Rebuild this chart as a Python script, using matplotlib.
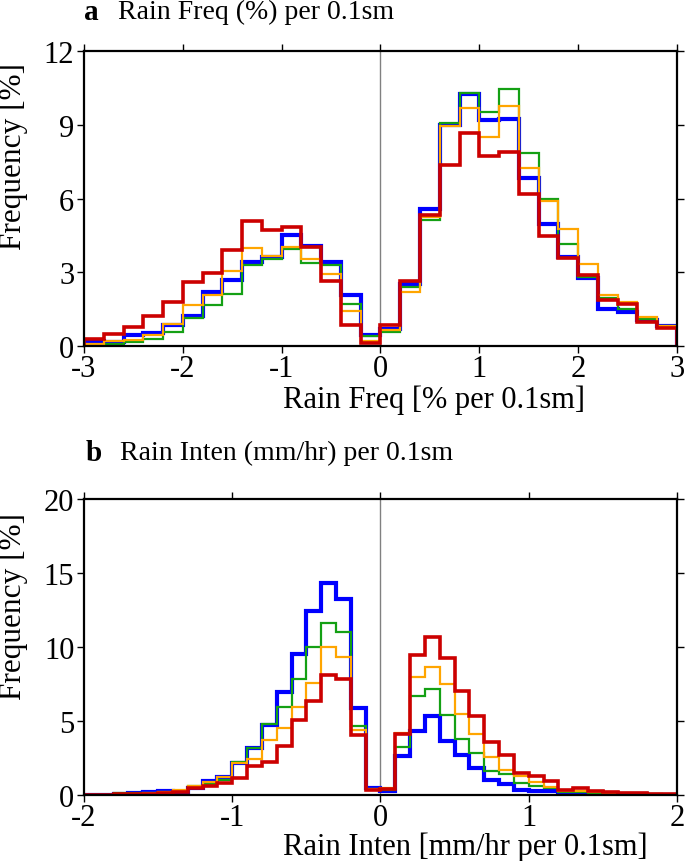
import numpy as np
import matplotlib
matplotlib.use("Agg")
import matplotlib.pyplot as plt

plt.rcParams['font.family'] = ['Liberation Serif', 'DejaVu Serif']
plt.rcParams['axes.unicode_minus'] = False

# panel a: rain frequency, bins of 0.2 from -3 to 3
edges_a = np.linspace(-3, 3, 31)
freq_blue = [0.2, 0.15, 0.43, 0.54, 0.84, 1.22, 2.2, 2.67, 3.42, 3.62, 4.5, 4.07, 3.42, 2.06, 0.43,
             0.71, 2.51, 5.56, 9.0, 10.25, 9.19, 9.23, 6.85, 4.95, 3.64, 2.75, 1.52, 1.38, 1.06, 0.81]
freq_green = [0.05, 0.1, 0.16, 0.3, 0.58, 1.13, 1.67, 2.12, 3.28, 3.55, 3.96, 3.36, 3.31, 1.7, 0.41,
              0.58, 2.42, 5.13, 9.06, 10.3, 9.53, 10.45, 7.87, 5.97, 4.14, 2.82, 1.97, 1.49, 1.11, 0.8]
freq_orange = [0.1, 0.2, 0.23, 0.43, 0.91, 1.67, 2.08, 3.04, 3.99, 3.66, 4.03, 3.55, 2.94, 1.42, 0.2,
               0.65, 2.2, 5.26, 8.95, 9.7, 8.51, 9.77, 7.23, 5.88, 4.75, 3.32, 2.06, 1.79, 1.18, 0.8]
freq_red = [0.3, 0.47, 0.79, 1.22, 1.8, 2.62, 2.98, 3.9, 5.09, 4.71, 4.83, 4.04, 2.65, 0.85, 0.14,
            0.84, 2.65, 5.32, 7.37, 8.68, 7.73, 7.91, 6.17, 4.48, 3.6, 2.9, 1.87, 1.7, 0.98, 0.75]

# panel b: rain intensity, bins of 0.1 from -2 to 2
edges_b = np.linspace(-2, 2, 41)
inten_blue = [0.03, 0.03, 0.05, 0.13, 0.18, 0.29, 0.22, 0.45, 0.92, 1.19, 2.16, 3.15, 4.73, 6.98, 9.55,
              12.4, 14.3, 13.27, 5.86, 0.5, 0.25, 2.66, 4.3, 5.36, 3.67, 2.7, 1.8, 1.01, 0.74, 0.34,
              0.29, 0.25, 0.14, 0.14, 0.1, 0.08, 0.06, 0.05, 0.03, 0.02]
inten_green = [0.02, 0.03, 0.1, 0.1, 0.1, 0.2, 0.3, 0.58, 0.74, 1.04, 2.25, 3.2, 4.77, 5.92, 7.84,
               9.98, 11.6, 11.04, 4.68, 0.42, 0.35, 3.22, 6.71, 7.16, 5.4, 3.78, 2.82, 1.64, 1.42, 0.79,
               0.59, 0.47, 0.22, 0.22, 0.15, 0.12, 0.08, 0.06, 0.04, 0.03]
inten_orange = [0.02, 0.03, 0.05, 0.08, 0.1, 0.22, 0.34, 0.63, 0.86, 1.19, 2.14, 2.43, 3.74, 4.55, 5.97,
                7.55, 9.98, 9.3, 4.41, 0.4, 0.45, 4.19, 7.95, 8.63, 7.5, 5.47, 4.12, 2.59, 1.69, 1.31,
                0.86, 0.52, 0.25, 0.29, 0.2, 0.15, 0.1, 0.08, 0.05, 0.03]
inten_red = [0.02, 0.02, 0.05, 0.05, 0.08, 0.13, 0.18, 0.45, 0.58, 0.79, 1.13, 1.98, 2.2, 3.33, 5.09,
             6.33, 8.08, 7.82, 4.05, 0.36, 0.4, 4.12, 9.46, 10.7, 9.26, 7.0, 5.32, 3.56, 2.73, 1.46,
             1.31, 0.92, 0.36, 0.45, 0.29, 0.22, 0.16, 0.1, 0.07, 0.05]

colors = ['#0000ff', '#14a014', '#ffa500', '#cc0000']
widths = [3.0, 1.6, 1.6, 2.6]

fig = plt.figure(figsize=(6.85, 8.62), dpi=100)
ax1 = fig.add_axes([0.1226, 0.5974, 0.8657, 0.3423])
ax2 = fig.add_axes([0.1226, 0.0766, 0.8657, 0.3434])


def draw(ax, edges, series, xlim, ylim, yticks):
    ax.axvline(0, color='#808080', lw=1.0, zorder=1)
    for vals, c, w in zip(series, colors, widths):
        ax.stairs(vals, edges, color=c, lw=w, zorder=2)
    ax.set_xlim(*xlim)
    ax.set_ylim(*ylim)
    ax.set_yticks(yticks)
    ax.set_xticks(np.arange(xlim[0], xlim[1] + 1))
    ax.tick_params(direction='out', length=5, width=1.0, labelsize=22,
                   top=True, right=True, pad=2)
    ax.tick_params(axis='x', pad=1)
    for s in ax.spines.values():
        s.set_linewidth(1.6)


draw(ax1, edges_a, [freq_blue, freq_green, freq_orange, freq_red],
     (-3, 3), (0, 12), [0, 3, 6, 9, 12])
draw(ax2, edges_b, [inten_blue, inten_green, inten_orange, inten_red],
     (-2, 2), (0, 20), [0, 5, 10, 15, 20])

# axis labels (placed like the original: left-aligned / bottom-anchored)
fig.text(0.413, 1 - 408 / 862, 'Rain Freq [% per 0.1sm]', fontsize=22, ha='left', va='baseline')
fig.text(0.413, 1 - 855 / 862, 'Rain Inten [mm/hr per 0.1sm]', fontsize=22, ha='left', va='baseline')
fig.text(0.019, 1 - 250 / 862, 'Frequency [%]', fontsize=22.5, rotation=90, ha='center', va='bottom')
fig.text(0.019, 1 - 700 / 862, 'Frequency [%]', fontsize=22.5, rotation=90, ha='center', va='bottom')

fig.text(0.122, 0.986, 'a', fontsize=21, fontweight='bold', va='center')
fig.text(0.172, 0.986, 'Rain Freq (%) per 0.1sm', fontsize=20, va='center')
fig.text(0.125, 0.474, 'b', fontsize=21, fontweight='bold', va='center')
fig.text(0.175, 0.474, 'Rain Inten (mm/hr) per 0.1sm', fontsize=20, va='center')

fig.savefig('out.png', dpi=100)
